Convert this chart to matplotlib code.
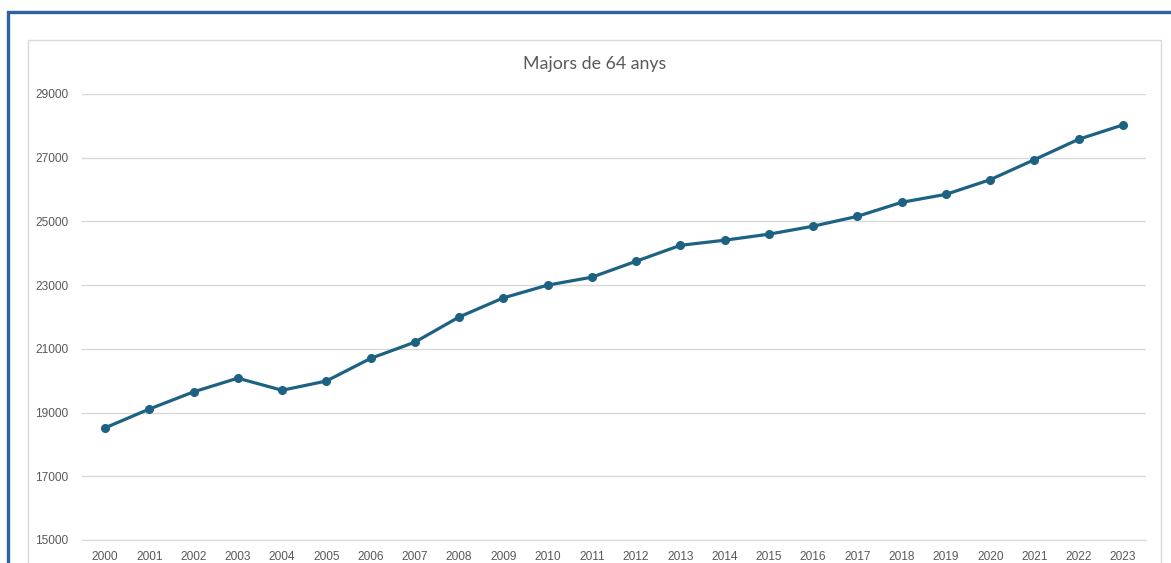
import matplotlib
matplotlib.use("Agg")
import matplotlib.pyplot as plt
from matplotlib.patches import Rectangle

years = [str(y) for y in range(2000, 2024)]
values = [18520, 19110, 19650, 20080, 19700, 19990, 20700, 21210, 22000, 22600,
          23000, 23250, 23750, 24250, 24410, 24600, 24850, 25160, 25600, 25850,
          26310, 26940, 27580, 28030]
yticks = [15000, 17000, 19000, 21000, 23000, 25000, 27000, 29000]
title = "Majors de 64 anys"

W, H = 1171, 563
fig = plt.figure(figsize=(W / 100, H / 100), dpi=100)
fig.patch.set_facecolor("white")

# outer blue frame
fig.patches.append(Rectangle((8 / W, -0.1), 1.2, (H - 12) / H + 0.1,
                             transform=fig.transFigure, fill=False,
                             edgecolor="#2c63a0", linewidth=2.4, zorder=0))
# inner gray chart frame
fig.patches.append(Rectangle((28 / W, -0.1), (1161 - 28) / W, (H - 40) / H + 0.1,
                             transform=fig.transFigure, fill=False,
                             edgecolor="#d9d9d9", linewidth=1.0, zorder=0))

ax = fig.add_axes([82 / W, (H - 540) / H, (1146 - 82) / W, (540 - 94) / H])
x = list(range(len(years)))
ax.plot(x, values, color="#1d6183", linewidth=2.3, marker="o", markersize=5.5,
        solid_capstyle="round", zorder=3)

ax.set_xlim(-0.52, len(years) - 0.48)
ax.set_ylim(15000, 29000)
ax.set_yticks(yticks)
ax.set_yticklabels([str(v) for v in yticks])
ax.set_xticks(x)
ax.set_xticklabels(years)
ax.grid(axis="y", color="#d9d9d9", linewidth=1.0)
ax.set_axisbelow(True)
for s in ["top", "right", "left"]:
    ax.spines[s].set_visible(False)
ax.spines["bottom"].set_color("#d9d9d9")
ax.tick_params(axis="both", length=0, labelsize=8.6, labelcolor="#595959")
ax.tick_params(axis="y", pad=10)
ax.tick_params(axis="x", pad=8)
for lab in ax.get_xticklabels() + ax.get_yticklabels():
    lab.set_fontfamily("Liberation Sans")

fig.text(595 / W, 1 - 64.5 / H, title, ha="center", va="center",
         fontsize=12.8, color="#595959", fontfamily="Lato")

fig.savefig("out.png", dpi=100)
